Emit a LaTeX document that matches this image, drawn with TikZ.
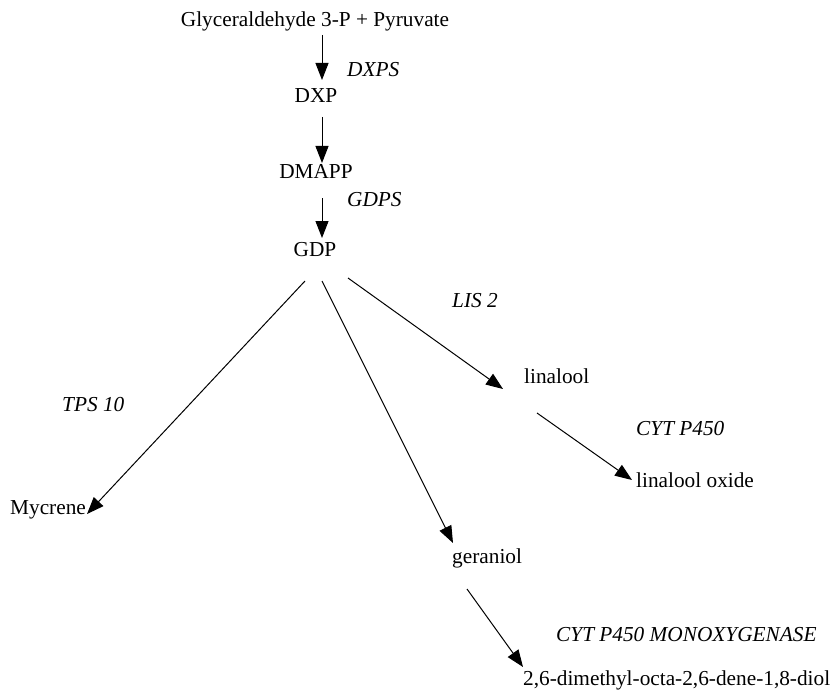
\documentclass[tikz,border=0pt]{standalone}
\usepackage{fontspec}
\setmainfont{Liberation Serif}
\usetikzlibrary{arrows.meta}
\begin{document}
\begin{tikzpicture}[x=1bp,y=-1bp,
  txt/.style={anchor=base west,inner sep=0pt,font=\fontsize{21.3bp}{25bp}\selectfont},
  ctxt/.style={txt,anchor=base},
  enz/.style={txt,font=\fontsize{21.3bp}{25bp}\selectfont\itshape},
  rxn/.style={line width=1bp,-{Triangle[length=17bp,width=13bp]}}]
\useasboundingbox (0,0) rectangle (832,691);
% compounds
\node[ctxt] (g3p) at (315,27) {Glyceraldehyde 3-P + Pyruvate};
\node[ctxt] (dxp) at (316,103) {DXP};
\node[ctxt] (dmapp) at (316,178) {DMAPP};
\node[ctxt] (gdp) at (315,256) {GDP};
\node[txt] (myc) at (10,514) {Mycrene};
\node[txt] (lin) at (524,383) {linalool};
\node[txt] (linox) at (636,487) {linalool oxide};
\node[txt] (ger) at (452,563) {geraniol};
\node[txt] (diol) at (523,685) {2,6-dimethyl-octa-2,6-dene-1,8-diol};
% enzymes
\node[enz] (dxps) at (347,77) {DXPS};
\node[enz] (gdps) at (347,206) {GDPS};
\node[enz] (lis) at (452,307) {LIS 2};
\node[enz] (tps) at (62,411) {TPS 10};
\node[enz] (cyt) at (636,435) {CYT P450};
\node[enz] (mono) at (556,641) {CYT P450 MONOXYGENASE};
% connector end points
\coordinate (a1s) at (322,35);  \coordinate (a1e) at (322,80);
\coordinate (a2s) at (322,117); \coordinate (a2e) at (322,163);
\coordinate (a3s) at (322,198); \coordinate (a3e) at (322,238);
\coordinate (bms) at (305,281); \coordinate (bme) at (87,514);
\coordinate (bgs) at (322,281); \coordinate (bge) at (453,543);
\coordinate (bls) at (348,278); \coordinate (ble) at (503,389);
\coordinate (cos) at (537,413); \coordinate (coe) at (632,480);
\coordinate (cds) at (467,589); \coordinate (cde) at (523,667);
% connectors
\draw[rxn] (a1s) -- (a1e);
\draw[rxn] (a2s) -- (a2e);
\draw[rxn] (a3s) -- (a3e);
\draw[rxn] (bms) -- (bme);
\draw[rxn] (bgs) -- (bge);
\draw[rxn] (bls) -- (ble);
\draw[rxn] (cos) -- (coe);
\draw[rxn] (cds) -- (cde);
\end{tikzpicture}
\end{document}
